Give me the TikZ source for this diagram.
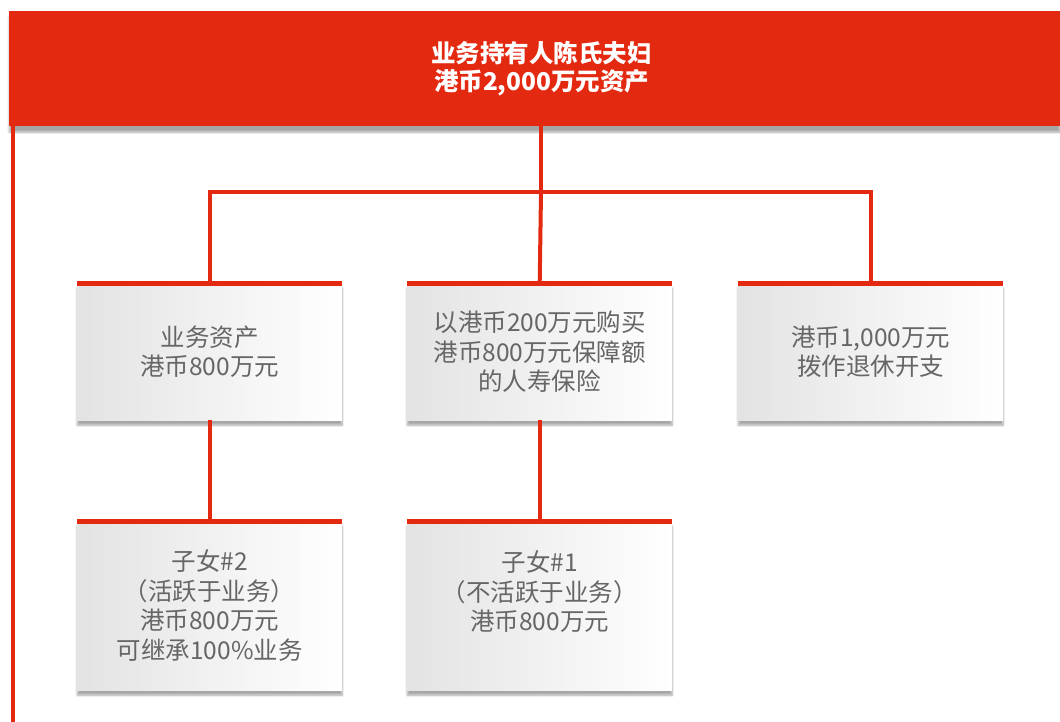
\documentclass[tikz,border=0pt]{standalone}
\usepackage{fontspec}
\setmainfont{Noto Sans CJK SC}
\usetikzlibrary{shadows.blur}
\definecolor{hdrred}{HTML}{E42911}
\definecolor{txtgray}{HTML}{666666}
\begin{document}
\begin{tikzpicture}[x=1pt,y=-1pt,
  link/.style={draw=hdrred,line width=4pt},
  card/.style={minimum width=265pt,inner sep=0pt,anchor=north west,
    left color=gray!22,right color=white,draw=none,
    blur shadow={shadow xshift=0pt,shadow yshift=-5pt,shadow blur steps=6,shadow opacity=35},
    text=txtgray,font=\fontsize{24.5}{29.5}\selectfont,align=center},
  hdr/.style={fill=hdrred,draw=none,text=white,font=\bfseries\fontsize{24.5}{28}\selectfont,align=center,
    blur shadow={shadow xshift=0pt,shadow yshift=-6pt,shadow blur steps=6,shadow opacity=35}}]
\useasboundingbox (0,0) rectangle (1060,722);
% header
\node[hdr,minimum width=1051pt,minimum height=115pt,anchor=north west,text width=1000pt] (top) at (9,11) {\hspace*{14pt}业务持有人陈氏夫妇\\\hspace*{14pt}港币2,000万元资产};
% left bar
\coordinate (lbt) at (13,126);
\coordinate (lbb) at (13,722);
\draw[link] (lbt) -- (lbb);
% cards
\node[card,minimum height=137pt] (b1) at (77,283) {业务资产\\港币800万元};
\node[card,minimum height=137pt] (b2) at (407,283) {以港币200万元购买\\港币800万元保障额\\的人寿保险};
\node[card,minimum height=137pt] (b3) at (738,283) {港币1,000万元\\拨作退休开支};
\node[card,minimum height=169pt] (b4) at (77,521) {子女\#2\\（活跃于业务）\\港币800万元\\可继承100\%业务};
\node[card,minimum height=169pt] (b5) at (407,521) {子女\#1\\（不活跃于业务）\\港币800万元\\\mbox{}};
% connectors
\coordinate (hy) at (541,192);
\draw[link] (top.south -| hy) -- (hy);
\draw[link] (b1.north) -- (b1.north |- hy) -- (b3.north |- hy) -- (b3.north);
\draw[link] (hy) -- (b2.north);
\draw[link] (b1.south) -- (b4.north);
\draw[link] (b2.south) -- (b5.north);
% red top lines of cards
\foreach \n in {b1,b2,b3,b4,b5}{
  \draw[hdrred,line width=5pt] (\n.north west) -- (\n.north east);
}
\end{tikzpicture}
\end{document}
